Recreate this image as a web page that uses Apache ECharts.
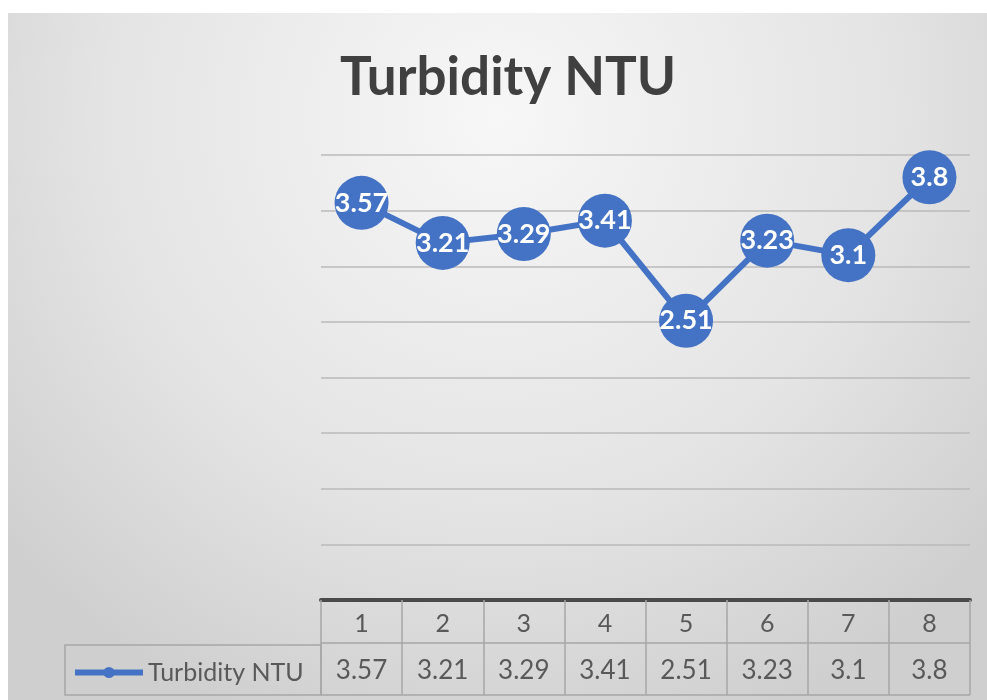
<!DOCTYPE html>
<html lang="en">
<head>
    <meta charset="UTF-8">
    <title>Turbidity NTU</title>
    <style>
        body{ margin:0; background:#fff; }
        .chart{
            position:absolute;
            left:8px;
            top:13px;
            width:979px;
            height:687px;
        }
    </style>
</head>
<body>
<div class="chart" id="showData"></div>
<script src="https://cdn.jsdelivr.net/npm/echarts@6/dist/echarts.min.js"></script>
<script>
    var seriesName = 'Turbidity NTU';
    var categories = ['1', '2', '3', '4', '5', '6', '7', '8'];
    var values = [3.57, 3.21, 3.29, 3.41, 2.51, 3.23, 3.1, 3.8];

    var blue = '#4472C4';
    var tableLine = '#a6a6a6';
    var textColor = '#595959';

    var mychart = echarts.init(document.getElementById('showData'));

    var option = {
        backgroundColor: {
            type: 'radial', x: 0.5, y: 0.15, r: 0.95,
            colorStops: [
                {offset: 0, color: '#f7f7f7'},
                {offset: 0.6, color: '#e4e4e4'},
                {offset: 1, color: '#cfcfcf'}
            ]
        },
        title: {
            text: seriesName,
            left: 327,
            top: 33,
            textStyle: {fontFamily: 'Lato', fontWeight: 'bold', fontSize: 53, color: '#404040'}
        },
        legend: {
            data: [seriesName],
            left: 64,
            top: 647,
            padding: 0,
            itemWidth: 68,
            itemHeight: 14,
            itemGap: 4,
            lineStyle: {width: 6},
            textStyle: {fontFamily: 'Lato', fontSize: 25, color: textColor}
        },
        grid: {left: 313, right: 17, top: 142, bottom: 100},
        xAxis: {
            type: 'category',
            data: categories,
            boundaryGap: true,
            axisLine: {lineStyle: {color: '#4a4a4a', width: 4}},
            axisTick: {show: true, length: 95, alignWithLabel: false, lineStyle: {color: tableLine, width: 1.5}},
            axisLabel: {
                interval: 0,
                margin: 2,
                formatter: function (v, i) {
                    return '{c|' + v + '}\n{v|' + values[i] + '}';
                },
                rich: {
                    c: {fontFamily: 'Lato', fontSize: 25, color: textColor, lineHeight: 43, height: 43},
                    v: {fontFamily: 'Lato', fontSize: 26, color: textColor, lineHeight: 52, height: 52}
                }
            }
        },
        yAxis: {
            type: 'value',
            min: 0,
            max: 4,
            interval: 0.5,
            axisLabel: {show: false},
            axisLine: {show: false},
            axisTick: {show: false},
            splitLine: {lineStyle: {color: '#bababa', width: 1.5}}
        },
        graphic: [
            {type: 'line', shape: {x1: 313, y1: 630, x2: 962, y2: 630}, style: {stroke: tableLine, lineWidth: 1.5}, silent: true},
            {type: 'line', shape: {x1: 313, y1: 682, x2: 962, y2: 682}, style: {stroke: tableLine, lineWidth: 1.5}, silent: true},
            {type: 'rect', shape: {x: 57, y: 632, width: 256, height: 50}, style: {fill: 'none', stroke: tableLine, lineWidth: 1.5}, silent: true}
        ],
        series: [{
            name: seriesName,
            type: 'line',
            data: values,
            symbol: 'circle',
            symbolSize: 54,
            lineStyle: {color: blue, width: 6},
            itemStyle: {color: blue},
            label: {
                show: true,
                position: 'inside',
                fontFamily: 'Lato',
                fontWeight: 'bold',
                fontSize: 27,
                color: '#ffffff'
            },
            z: 3
        }]
    };

    mychart.setOption(option);
</script>
</body>
</html>
